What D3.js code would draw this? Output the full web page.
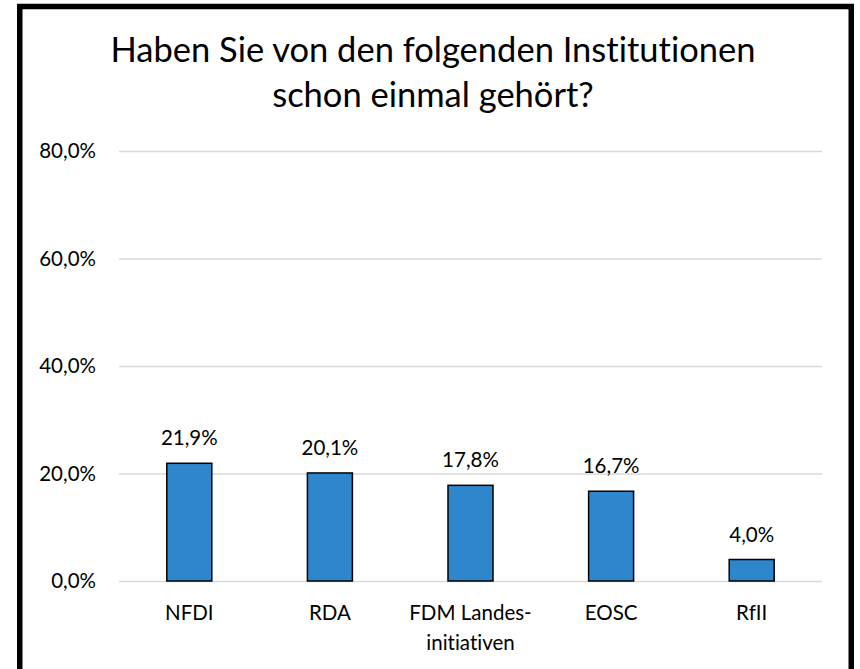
<!DOCTYPE html>
<html>
<head>
<meta charset="utf-8">
<script src="https://cdn.jsdelivr.net/npm/d3@7/dist/d3.min.js"></script>
<style>
  html, body { margin: 0; padding: 0; background: #fff; }
  svg { display: block; }
  text { font-family: Lato, "Open Sans", sans-serif; fill: #000; font-variant-ligatures: none; font-feature-settings: "liga" 0, "clig" 0; }
</style>
</head>
<body>
<svg id="chart" width="860" height="669"></svg>
<script>
const titleLines = ["Haben Sie von den folgenden Institutionen", "schon einmal gehört?"];
const categories = [["NFDI"], ["RDA"], ["FDM Landes-", "initiativen"], ["EOSC"], ["RfII"]];
const values = [0.219, 0.201, 0.178, 0.167, 0.040];
const yTicks = [0, 0.2, 0.4, 0.6, 0.8];

const svg = d3.select("#chart");
const fmt = v => (v * 100).toFixed(1).replace(".", ",") + "%";

// frame
svg.append("rect")
  .attr("x", 19.75).attr("y", 6.5)
  .attr("width", 831.5).attr("height", 700)
  .attr("fill", "#fff").attr("stroke", "#000").attr("stroke-width", 5.5);

// title
svg.append("g").selectAll("text").data(titleLines).join("text")
  .attr("x", 433).attr("y", (d, i) => 62 + i * 45)
  .attr("text-anchor", "middle")
  .attr("font-size", 34.5)
  .text(d => d);

const x = d3.scaleBand().domain(d3.range(categories.length)).range([119, 822]).padding(0);
const y = d3.scaleLinear().domain([0, 0.8]).range([581, 151]);

// gridlines + y axis
const yAxis = d3.axisLeft(y).tickValues(yTicks).tickSize(-(822 - 119)).tickFormat(fmt).tickPadding(23);
const gy = svg.append("g").attr("transform", "translate(119,0)").call(yAxis);
gy.select(".domain").remove();
gy.selectAll(".tick line").attr("stroke", "#D9D9D9").attr("stroke-width", 1.5);
gy.selectAll(".tick text").attr("font-size", 20.5).attr("font-family", "Lato, 'Open Sans', sans-serif").attr("fill", "#000");

// bars
const barW = x.bandwidth() * 0.32;
svg.append("g").selectAll("rect").data(values).join("rect")
  .attr("x", (d, i) => x(i) + x.bandwidth() / 2 - barW / 2)
  .attr("y", d => y(d))
  .attr("width", barW)
  .attr("height", d => y(0) - y(d))
  .attr("fill", "#2E86CC")
  .attr("stroke", "#000").attr("stroke-width", 1.5);

// data labels
svg.append("g").selectAll("text").data(values).join("text")
  .attr("x", (d, i) => x(i) + x.bandwidth() / 2)
  .attr("y", d => y(d) - 18)
  .attr("text-anchor", "middle")
  .attr("font-size", 20.5)
  .text(d => fmt(d));

// category labels
const cg = svg.append("g").selectAll("text").data(categories).join("text")
  .attr("x", (d, i) => x(i) + x.bandwidth() / 2)
  .attr("y", 620)
  .attr("text-anchor", "middle")
  .attr("font-size", 20.5);
cg.selectAll("tspan").data((d, i) => d.map(s => ({s, i}))).join("tspan")
  .attr("x", d => x(d.i) + x.bandwidth() / 2)
  .attr("dy", (d, j) => j === 0 ? 0 : 30)
  .text(d => d.s);
</script>
</body>
</html>
